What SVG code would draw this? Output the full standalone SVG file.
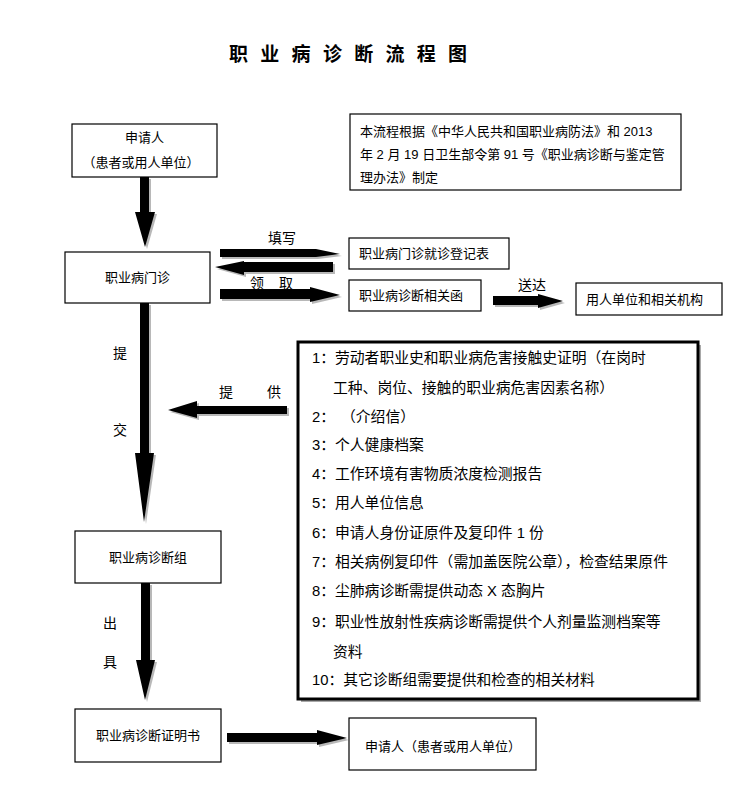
<svg xmlns="http://www.w3.org/2000/svg" width="734" height="793" viewBox="0 0 734 793">
<defs>
<style>
text{font-family:"Liberation Sans","Noto Sans CJK SC",sans-serif;fill:#000;}
.t13{font-size:13px;}
.t14{font-size:14.8px;}
.lbl{font-size:14px;}
.box{fill:#fff;stroke:#000;stroke-width:1.2;}
.big{fill:#fff;stroke:#000;stroke-width:3;}
.arr{fill:#000;}
.sh{fill:#9a9a9a;opacity:0.7;}
</style>
</defs>
<rect width="734" height="793" fill="#fff"/>
<text x="229" y="61" style="font-size:19px;font-weight:bold;letter-spacing:12.3px">职业病诊断流程图</text>

<g id="connectors">
  <path class="sh" d="M142,179 H151 V214 H157 L147,249 L137,214 H142 Z"/>
  <path class="arr" d="M140,177 H149 V212 H155 L145,247 L135,212 H140 Z"/>
  <path class="sh" d="M142,305 H151 V455 H156 L146,524 L137,455 H142 Z"/>
  <path class="arr" d="M140,303 H149 V453 H154 L144,522 L135,453 H140 Z"/>
  <path class="sh" d="M143,585 H152 V662 H157 L147,702 L138,662 H143 Z"/>
  <path class="arr" d="M141,583 H150 V660 H155 L145,700 L136,660 H141 Z"/>
  <path class="sh" d="M222,251 H318 L342,256 L318,259 H222 Z"/>
  <path class="arr" d="M220,249 H316 L340,254 L316,257 H220 Z"/>
  <path class="sh" d="M335,264 V274 H246 V277 L217,269 L246,263 V264 Z"/>
  <path class="arr" d="M333,262 V272 H244 V275 L215,267 L244,261 V262 Z"/>
  <path class="sh" d="M222,291 H312 V289 L342,297 L312,304 V301 H222 Z"/>
  <path class="arr" d="M220,289 H310 V287 L340,295 L310,302 V299 H220 Z"/>
  <path class="sh" d="M495,298 H540 V296 L565,303 L540,310 V307 H495 Z"/>
  <path class="arr" d="M493,296 H538 V294 L563,301 L538,308 V305 H493 Z"/>
  <path class="sh" d="M289,408 V416 H199 V420 L170,412 L199,403 V408 Z"/>
  <path class="arr" d="M287,406 V414 H197 V418 L168,410 L197,401 V406 Z"/>
  <path class="sh" d="M229,735 H319 V732 L349,740 L319,747 V744 H229 Z"/>
  <path class="arr" d="M227,733 H317 V730 L347,738 L317,745 V742 H227 Z"/>
  <text class="lbl" x="268" y="243">填写</text>
  <text class="lbl" x="250" y="288">领</text>
  <text class="lbl" x="279" y="288">取</text>
  <text class="lbl" x="518" y="290">送达</text>
  <text class="lbl" x="113" y="358">提</text>
  <text class="lbl" x="113" y="435">交</text>
  <text class="lbl" x="219" y="397">提</text>
  <text class="lbl" x="267" y="397">供</text>
  <text class="lbl" x="103" y="628">出</text>
  <text class="lbl" x="103" y="667">具</text>
</g>

<g id="applicant">
  <rect class="box" x="72" y="124" width="145" height="53"/>
  <text class="t13" x="144.5" y="142" text-anchor="middle">申请人</text>
  <text class="t13" x="141" y="167" text-anchor="middle">（患者或用人单位）</text>
</g>

<g id="note">
  <rect class="box" x="350" y="114" width="331" height="76"/>
  <text class="t13" x="360" y="136">本流程根据《中华人民共和国职业病防法》和 2013</text>
  <text class="t13" x="360" y="159">年 2 月 19 日卫生部令第 91 号《职业病诊断与鉴定管</text>
  <text class="t13" x="360" y="182">理办法》制定</text>
</g>

<g id="clinic">
  <rect class="box" x="65" y="252" width="145" height="51"/>
  <text class="t13" x="137.5" y="282" text-anchor="middle">职业病门诊</text>
</g>

<g id="register">
  <rect class="box" x="349" y="238" width="160" height="31"/>
  <text class="t13" x="359" y="258">职业病门诊就诊登记表</text>
</g>

<g id="letter">
  <rect class="box" x="349" y="280" width="132" height="31"/>
  <text class="t13" x="359" y="300">职业病诊断相关函</text>
</g>

<g id="employer">
  <rect class="box" x="576" y="283" width="146" height="32"/>
  <text class="t13" x="586" y="304">用人单位和相关机构</text>
</g>

<g id="materials">
  <rect x="301" y="345" width="400" height="357" fill="#a8a8a8"/>
  <rect class="big" x="298" y="342" width="400" height="357"/>
  <text class="t14" x="312" y="363">1：劳动者职业史和职业病危害接触史证明（在岗时</text>
  <text class="t14" x="333" y="393">工种、岗位、接触的职业病危害因素名称）</text>
  <text class="t14" x="312" y="422">2：<tspan x="341">（介绍信）</tspan></text>
  <text class="t14" x="312" y="450">3：个人健康档案</text>
  <text class="t14" x="312" y="479">4：工作环境有害物质浓度检测报告</text>
  <text class="t14" x="312" y="508">5：用人单位信息</text>
  <text class="t14" x="312" y="538">6：申请人身份证原件及复印件 1 份</text>
  <text class="t14" x="312" y="567">7：相关病例复印件（需加盖医院公章），检查结果原件</text>
  <text class="t14" x="312" y="596">8：尘肺病诊断需提供动态 X 态胸片</text>
  <text class="t14" x="312" y="627">9：职业性放射性疾病诊断需提供个人剂量监测档案等</text>
  <text class="t14" x="333" y="657">资料</text>
  <text class="t14" x="312" y="685">10：其它诊断组需要提供和检查的相关材料</text>
</g>

<g id="diag-group">
  <rect class="box" x="75" y="531" width="146" height="52"/>
  <text class="t13" x="148" y="562" text-anchor="middle">职业病诊断组</text>
</g>

<g id="certificate">
  <rect class="box" x="75" y="709" width="146" height="53"/>
  <text class="t13" x="148" y="740" text-anchor="middle">职业病诊断证明书</text>
</g>

<g id="applicant2">
  <rect class="box" x="349" y="718" width="187" height="52"/>
  <text class="t13" x="365" y="751">申请人（患者或用人单位）</text>
</g>
</svg>
